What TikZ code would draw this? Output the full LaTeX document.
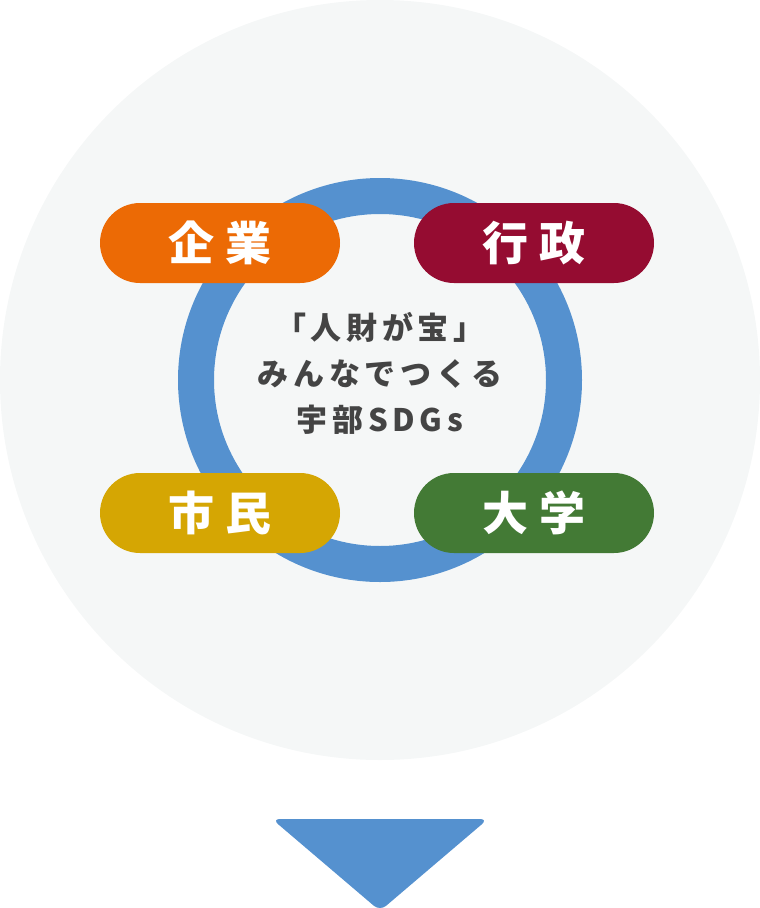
\documentclass[tikz,border=0pt]{standalone}
\usepackage{fontspec}
\usetikzlibrary{shapes.misc,positioning}
\newfontfamily\jpfont{Noto Sans CJK JP}[LetterSpace=15]
\newfontfamily\jpwide{Noto Sans CJK JP}[LetterSpace=22]
\definecolor{bgcirc}{HTML}{F5F7F7}
\definecolor{ringblue}{HTML}{5591CF}
\definecolor{kigyoc}{HTML}{EC6A05}
\definecolor{gyoseic}{HTML}{950C31}
\definecolor{shiminc}{HTML}{D5A603}
\definecolor{daigakuc}{HTML}{437A35}
\definecolor{textgrey}{HTML}{444444}
\tikzset{pill/.style={rounded rectangle,minimum width=240pt,minimum height=80pt,
    inner sep=0pt,text=white,font=\jpwide\bfseries\fontsize{46}{46}\selectfont}
}

\begin{document}
\begin{tikzpicture}[x=1pt,y=-1pt]
    \useasboundingbox (0,0) rectangle (760,908);
    \fill[bgcirc] (380,380) circle (380);
    \draw[ringblue,line width=36pt] (380,380) circle (184);
    \node[align=center,text=textgrey,font=\jpfont\bfseries\fontsize{31}{46}\selectfont] (center) at (380,373)
        {「人財が宝」\\みんなでつくる\\宇部SDGs};
    \node[pill,fill=kigyoc] (kigyo) at (220,243) {企業};
    \node[pill,fill=gyoseic] (gyosei) at (534,243) {行政};
    \node[pill,fill=shiminc] (shimin) at (220,513) {市民};
    \node[pill,fill=daigakuc] (daigaku) at (534,513) {大学};
    \fill[ringblue,rounded corners=8pt] (272,819) -- (488,819) -- (380,911) -- cycle;
\end{tikzpicture}
\end{document}
